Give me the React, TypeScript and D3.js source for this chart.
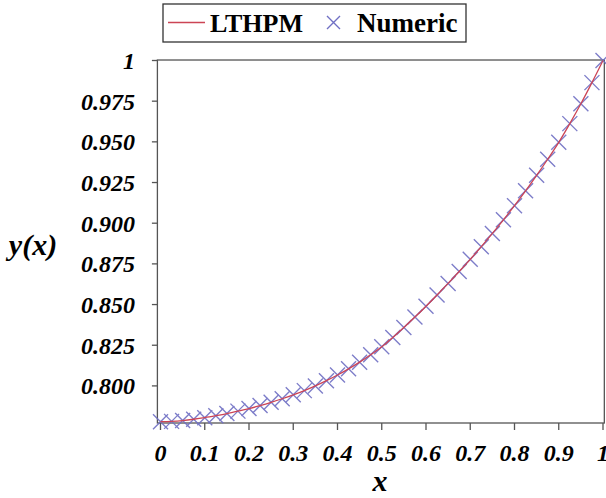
import React from "react";
import * as d3 from "d3";

const xValues: number[] = [
  0, 0.025, 0.05, 0.075, 0.1, 0.125, 0.15, 0.175, 0.2, 0.225, 0.25, 0.275, 0.3, 0.325, 0.35, 0.375, 0.4,
  0.425, 0.45, 0.475, 0.5, 0.525, 0.55, 0.575, 0.6, 0.625, 0.65, 0.675, 0.7, 0.725, 0.75, 0.775, 0.8,
  0.825, 0.85, 0.875, 0.9, 0.925, 0.95, 0.975, 1,
];
const lthpm: number[] = [
  0.778, 0.7782, 0.7787, 0.7795, 0.7805, 0.7817, 0.783, 0.7845, 0.7861, 0.7879, 0.7899, 0.7921, 0.7945,
  0.7971, 0.8, 0.8032, 0.8067, 0.8105, 0.8146, 0.8191, 0.824, 0.8298, 0.8359, 0.8423, 0.849, 0.8559,
  0.863, 0.8703, 0.8778, 0.8856, 0.8937, 0.9021, 0.9108, 0.9199, 0.9294, 0.9393, 0.9497, 0.9612, 0.9734,
  0.9864, 1.0,
];
const numeric: number[] = [
  0.778, 0.7782, 0.7787, 0.7795, 0.7805, 0.7817, 0.783, 0.7845, 0.7861, 0.7879, 0.7899, 0.7921, 0.7945,
  0.7971, 0.8, 0.8032, 0.8067, 0.8105, 0.8146, 0.8191, 0.824, 0.8298, 0.8359, 0.8423, 0.849, 0.8559,
  0.863, 0.8703, 0.8778, 0.8856, 0.8937, 0.9021, 0.9108, 0.9199, 0.9294, 0.9393, 0.9497, 0.9612, 0.9734,
  0.9864, 1.0,
];
const xTicks: number[] = [0, 0.1, 0.2, 0.3, 0.4, 0.5, 0.6, 0.7, 0.8, 0.9, 1];
const xTickLabels: string[] = ["0", "0.1", "0.2", "0.3", "0.4", "0.5", "0.6", "0.7", "0.8", "0.9", "1"];
const yTicks: number[] = [0.8, 0.825, 0.85, 0.875, 0.9, 0.925, 0.95, 0.975, 1];
const yTickLabels: string[] = ["0.800", "0.825", "0.850", "0.875", "0.900", "0.925", "0.950", "0.975", "1"];
const seriesNames: string[] = ["LTHPM", "Numeric"];

const LINE_COLOR = "#cc4455";
const MARK_COLOR = "#7070c4";
const fontStyleObj = { fontFamily: "Liberation Serif" };

export default function App() {
  const x = d3.scaleLinear().domain([0, 1]).range([160.5, 603]);
  const y = d3.scaleLinear().domain([0.7772, 1]).range([423, 60.5]);
  const left = x(-0.007);
  const right = x(1.003);
  const top = y(1.0003);
  const bottom = y(0.7772);

  const line = d3
    .line<number>()
    .x((_, i) => x(xValues[i]))
    .y((d) => y(d))
    .curve(d3.curveMonotoneX);

  const cross = (cx: number, cy: number, r: number) =>
    `M${cx - r},${cy - r}L${cx + r},${cy + r}M${cx - r},${cy + r}L${cx + r},${cy - r}`;

  return (
    <svg width={606} height={498} style={{ position: "absolute", left: 0, top: 0, background: "#fff" }}>
      <rect x={0} y={0} width={606} height={498} fill="#fff" />
      <rect x={left} y={top} width={right - left} height={bottom - top} fill="none" stroke="#555" strokeWidth={1.3} />
      {yTicks.map((t, i) => (
        <g key={"y" + i}>
          <line x1={left - 5.5} x2={left} y1={y(t)} y2={y(t)} stroke="#555" strokeWidth={1.3} />
          <text
            x={135}
            y={y(t)}
            dy="0.35em"
            textAnchor="end"
            style={fontStyleObj}
            fontWeight="bold"
            fontStyle="italic"
            fontSize={24}
            fill="#000"
          >
            {yTickLabels[i]}
          </text>
        </g>
      ))}
      {xTicks.map((t, i) => (
        <g key={"x" + i}>
          <line x1={x(t)} x2={x(t)} y1={bottom} y2={bottom + 7} stroke="#555" strokeWidth={1.3} />
          <text
            x={x(t)}
            y={461}
            textAnchor="middle"
            style={fontStyleObj}
            fontWeight="bold"
            fontStyle="italic"
            fontSize={24}
            fill="#000"
          >
            {xTickLabels[i]}
          </text>
        </g>
      ))}
      <text x={380} y={491} textAnchor="middle" style={fontStyleObj} fontWeight="bold" fontStyle="italic" fontSize={30}>
        x
      </text>
      <text x={33} y={255} textAnchor="middle" style={fontStyleObj} fontWeight="bold" fontStyle="italic" fontSize={30}>
        y(x)
      </text>
      <g stroke={MARK_COLOR} strokeWidth={1.4} fill="none" opacity={0.9}>
        {numeric.map((v, i) => (
          <path key={"m" + i} d={cross(x(xValues[i]), y(v), 7.5)} />
        ))}
      </g>
      <path d={line(lthpm) || ""} fill="none" stroke={LINE_COLOR} strokeWidth={1.3} />
      <rect x={163} y={4} width={303} height={38} fill="#fff" stroke="#333" strokeWidth={1.3} />
      <line x1={168} x2={205} y1={22.5} y2={22.5} stroke={LINE_COLOR} strokeWidth={1.3} />
      <text x={210} y={32} style={fontStyleObj} fontWeight="bold" fontSize={26}>
        {seriesNames[0]}
      </text>
      <path d={cross(333.5, 22.5, 6.5)} stroke={MARK_COLOR} strokeWidth={1.4} fill="none" />
      <text x={357} y={32} style={fontStyleObj} fontWeight="bold" fontSize={27}>
        {seriesNames[1]}
      </text>
    </svg>
  );
}
